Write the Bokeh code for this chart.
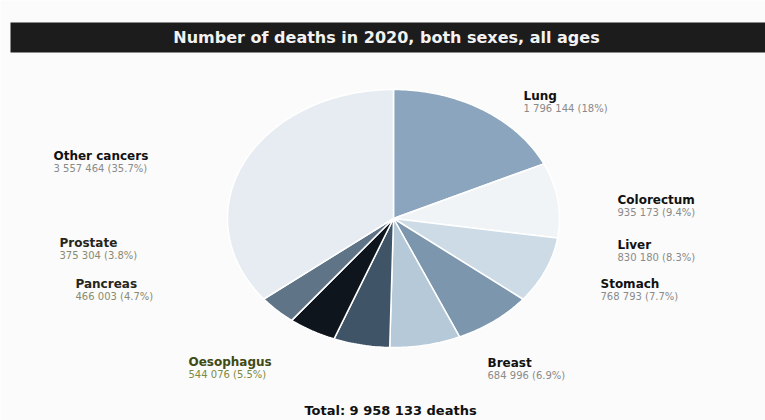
import numpy as np
from bokeh.plotting import figure
from bokeh.models import Range1d, ColumnDataSource
from bokeh.core.properties import value
from bokeh.embed import file_html
from bokeh.resources import INLINE

# ---- data ----
cancers = ["Lung", "Colorectum", "Liver", "Stomach", "Breast", "Oesophagus",
           "Pancreas", "Prostate", "Other cancers"]
deaths = [1796144, 935173, 830180, 768793, 684996, 544076, 466003, 375304, 3557464]
value_labels = ["1 796 144 (18%)", "935 173 (9.4%)", "830 180 (8.3%)", "768 793 (7.7%)",
                "684 996 (6.9%)", "544 076 (5.5%)", "466 003 (4.7%)", "375 304 (3.8%)",
                "3 557 464 (35.7%)"]
slice_colors = ["#8aa5bd", "#f0f4f7", "#cddbe6", "#7b96ad", "#b6c9d8", "#3f5567",
                "#0e151c", "#5f7486", "#e6ecf1"]
title_text = "Number of deaths in 2020, both sexes, all ages"
total_text = "Total: 9 958 133 deaths"

# ---- layout (styles/positions) ----
W, H = 765, 420
cx, cy, rx, ry = 393, 218, 166, 129
label_pos = [(523, 95), (617, 199), (617, 244), (600, 283), (487, 362),
             (188, 361), (75, 283), (59, 242), (53, 155)]
name_colors = ["#111111"] * 5 + ["#3f4a14", "#26261a", "#26261a", "#111111"]
val_colors = ["#8a8a8a"] * 5 + ["#7d8a3c", "#8a8a70", "#8a8a70", "#8a8a8a"]
FONT = value("DejaVu Sans")

p = figure(width=W, height=H, output_backend="svg", toolbar_location=None,
           x_range=Range1d(0, W), y_range=Range1d(H, 0), min_border=0)
p.axis.visible = False
p.grid.visible = False
p.outline_line_color = None
p.background_fill_color = "#fbfbfb"
p.border_fill_color = "#fbfbfb"

# title bar
p.quad(left=[10], right=[W], top=[22], bottom=[52], fill_color="#1c1c1c", line_color=None)
p.text(x=[386], y=[37], text=[title_text], text_color="#f2f2f2",
       text_font=FONT, text_font_size="16px", text_font_style="bold",
       text_align="center", text_baseline="middle")

# pie slices (elliptical), clockwise from top
total = sum(deaths)
fr = np.array(deaths) / total
ends = np.cumsum(fr) * 2 * np.pi
starts = ends - fr * 2 * np.pi
xs, ys = [], []
for s, e in zip(starts, ends):
    t = np.linspace(s, e, max(4, int((e - s) * 60)))
    xs.append([cx] + list(cx + rx * np.sin(t)))
    ys.append([cy] + list(cy - ry * np.cos(t)))
src = ColumnDataSource(dict(xs=xs, ys=ys, color=slice_colors))
p.patches("xs", "ys", source=src, fill_color="color", line_color="white", line_width=1.5)

# labels
lx = [q[0] for q in label_pos]
ly = [q[1] for q in label_pos]
p.text(x=lx, y=ly, text=cancers, text_color=name_colors,
       text_font=FONT, text_font_size="12px", text_font_style="bold",
       text_align="left", text_baseline="middle")
p.text(x=lx, y=[v + 13 for v in ly], text=value_labels, text_color=val_colors,
       text_font=FONT, text_font_size="10px",
       text_align="left", text_baseline="middle")

p.text(x=[390], y=[410], text=[total_text], text_color="#111111",
       text_font=FONT, text_font_size="13px", text_font_style="bold",
       text_align="center", text_baseline="middle")

open("out.html", "w").write(file_html(p, INLINE))
